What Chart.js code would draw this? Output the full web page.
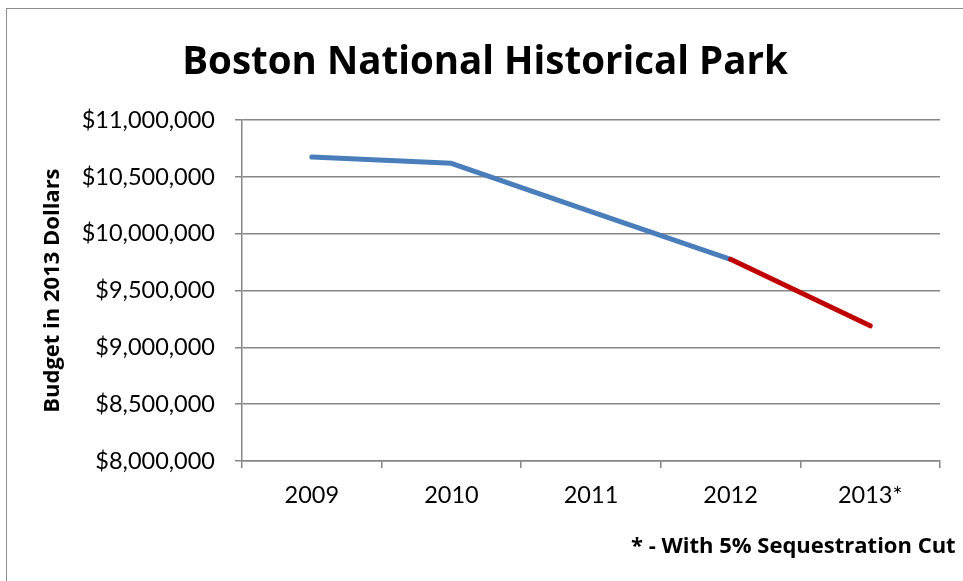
<!DOCTYPE html>
<html>
<head>
<meta charset="utf-8">
<script src="https://cdn.jsdelivr.net/npm/chart.js@4"></script>
<style>
  html, body { margin: 0; padding: 0; background: #fff; overflow: hidden; }
  #wrap { position: absolute; left: 0; top: 0; width: 963px; height: 581px; }
  #frame { position: absolute; left: 6px; top: 8px; width: 1000px; height: 600px; border: 1px solid #8c8c8c; }
  #note { position: absolute; left: 631px; top: 529px; font: bold 22px "Open Sans", sans-serif; white-space: nowrap; color: #000; }
</style>
</head>
<body>
<div id="frame"></div>
<div id="wrap"><canvas id="budgetChart" width="963" height="581"></canvas></div>
<div id="note">* - With 5% Sequestration Cut</div>
<script>
document.addEventListener('DOMContentLoaded', () => {
    // Data
    const years = ['2009', '2010', '2011', '2012', '2013*'];
    const budget = [10675000, 10620000, 10195000, 9775000, 9190000];
    const yTicks = [8000000, 8500000, 9000000, 9500000, 10000000, 10500000, 11000000];

    const blue = '#4a7ebb';
    const red = '#c00000';
    const gray = '#868686';

    const fmt = v => '$' + v.toLocaleString('en-US');

    const config = {
        type: 'line',
        data: {
            labels: years,
            datasets: [{
                label: 'Budget',
                data: budget,
                borderColor: blue,
                borderWidth: 5,
                borderCapStyle: 'round',
                borderJoinStyle: 'round',
                pointRadius: 0,
                tension: 0,
                // last segment (2012 -> 2013*) drawn in red
                segment: {
                    borderColor: ctx => ctx.p1DataIndex === budget.length - 1 ? red : blue
                }
            }]
        },
        options: {
            responsive: false,
            animation: false,
            layout: { padding: { left: 30, right: 23, top: 0, bottom: 60 } },
            plugins: {
                legend: { display: false },
                tooltip: { enabled: false },
                title: {
                    display: true,
                    text: 'Boston National Historical Park',
                    color: '#000',
                    font: { family: 'Open Sans', size: 38.5, weight: 'bold', lineHeight: 1.2 },
                    padding: { top: 40, bottom: 34 }
                }
            },
            scales: {
                x: {
                    offset: true,
                    grid: {
                        offset: true,
                        drawOnChartArea: false,
                        color: gray,
                        tickLength: 7,
                        lineWidth: 1.5
                    },
                    border: { color: gray, width: 1.5 },
                    ticks: {
                        color: '#000',
                        font: { family: 'Lato', size: 23.5 },
                        padding: 13
                    },
                    afterFit: s => { s.height = 60; }
                },
                y: {
                    min: 8000000,
                    max: 11000000,
                    afterBuildTicks: s => { s.ticks = yTicks.map(v => ({ value: v })); },
                    grid: {
                        color: gray,
                        lineWidth: 1.5,
                        tickLength: 7
                    },
                    border: { color: gray, width: 1.5 },
                    ticks: {
                        color: '#000',
                        font: { family: 'Lato', size: 23.5 },
                        padding: 20,
                        callback: v => fmt(v)
                    },
                    title: {
                        display: true,
                        text: 'Budget in 2013 Dollars',
                        color: '#000',
                        font: { family: 'Open Sans', size: 22, weight: 'bold', lineHeight: 1.2 },
                        padding: { top: 10, bottom: 4 }
                    },
                    afterFit: s => { s.width = 242 - 30; }
                }
            }
        }
    };

    new Chart(document.getElementById('budgetChart'), config);
});
</script>
</body>
</html>
